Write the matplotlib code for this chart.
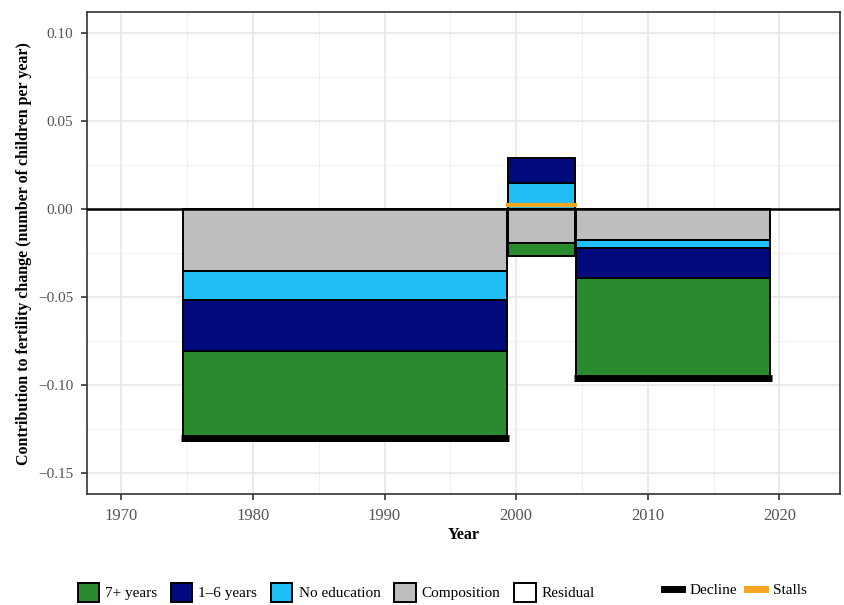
import numpy as np
import matplotlib.pyplot as plt
from matplotlib.patches import Patch
from matplotlib.lines import Line2D

plt.rcParams['font.family'] = ['Liberation Serif', 'DejaVu Serif']

# Periods (start/end year of each bar)
period_start = [1974.7, 1999.4, 2004.55]
period_end = [1999.3, 2004.5, 2019.3]

# Contributions per component (children per year)
comp_names = ['Composition', 'No education', '1\u20136 years', '7+ years', 'Residual']
composition = [-0.035, -0.0193, -0.0176]
no_education = [-0.0165, 0.0148, -0.0045]
years_1_6 = [-0.029, 0.0142, -0.0168]
years_7plus = [-0.049, -0.0072, -0.057]
residual = [0.0, 0.0, 0.0]

totals = [-0.13, 0.0025, -0.096]
status = ['Decline', 'Stall', 'Decline']

colors = {
    'Composition': '#bebebe',
    'No education': '#20bef7',
    '1\u20136 years': '#000a7c',
    '7+ years': '#2a8a2e',
    'Residual': '#ffffff',
}
status_colors = {'Decline': 'black', 'Stall': '#f5a623'}

fig = plt.figure(figsize=(8.45, 6.05), dpi=100)
ax = fig.add_axes([0.103, 0.183, 0.891, 0.797])

series = [composition, no_education, years_1_6, years_7plus, residual]
pos_base = np.zeros(3)
neg_base = np.zeros(3)
for name, vals in zip(comp_names, series):
    vals = np.array(vals)
    for i, v in enumerate(vals):
        if v == 0:
            continue
        w = period_end[i] - period_start[i]
        if v > 0:
            b = pos_base[i]
            pos_base[i] += v
        else:
            b = neg_base[i]
            neg_base[i] += v
        ax.bar(period_start[i], v, width=w, bottom=b, align='edge',
               color=colors[name], edgecolor='black', linewidth=1.4, zorder=3)

ax.axhline(0, color='black', linewidth=1.8, zorder=4)

for i, t in enumerate(totals):
    c = status_colors[status[i]]
    lw = 5 if status[i] == 'Decline' else 3
    ax.plot([period_start[i] - 0.15, period_end[i] + 0.15], [t, t],
            color=c, linewidth=lw, solid_capstyle='butt', zorder=5)

ax.set_xlim(1967.4, 2024.6)
ax.set_ylim(-0.162, 0.112)
ax.set_xticks([1970, 1980, 1990, 2000, 2010, 2020])
ax.set_xticks(np.arange(1975, 2025, 10), minor=True)
ax.set_yticks([-0.15, -0.10, -0.05, 0.00, 0.05, 0.10])
ax.set_yticks(np.arange(-0.125, 0.11, 0.05), minor=True)
ax.yaxis.set_major_formatter(plt.FuncFormatter(lambda v, p: f'{v:.2f}'.replace('-', '\u2212')))
ax.grid(True, which='major', color='#e6e6e6', linewidth=1.2, zorder=0)
ax.grid(True, which='minor', color='#f0f0f0', linewidth=0.8, zorder=0)
ax.tick_params(which='minor', length=0)
ax.tick_params(which='major', length=4, width=1.2, color='#333333', labelcolor='#555555')
ax.tick_params(axis='x', labelsize=12, pad=6)
ax.tick_params(axis='y', labelsize=11, pad=6)
for s in ax.spines.values():
    s.set_color('#333333')
    s.set_linewidth(1.2)

ax.set_xlabel('Year', fontsize=11.5, fontweight='bold', labelpad=2)
ax.set_ylabel('Contribution to fertility change (number of children per year)',
              fontsize=11.5, fontweight='bold', labelpad=4)

legend_order = ['7+ years', '1\u20136 years', 'No education', 'Composition', 'Residual']
handles = [Patch(facecolor=colors[n], edgecolor='black', linewidth=1.4) for n in legend_order]
leg1 = fig.legend(handles, legend_order, loc='center', bbox_to_anchor=(0.398, 0.021),
                  ncol=5, frameon=False, fontsize=11, handlelength=1.4, handleheight=1.5,
                  handletextpad=0.4, columnspacing=0.9)

status_labels = ['Decline', 'Stalls']
lines = [Line2D([0], [0], color='black', linewidth=5),
         Line2D([0], [0], color='#f5a623', linewidth=5)]
leg2 = fig.legend(lines, status_labels, loc='center', bbox_to_anchor=(0.87, 0.024),
                  ncol=2, frameon=False, fontsize=11, handlelength=1.2,
                  handletextpad=0.5, columnspacing=0.6)

fig.savefig('out.png', dpi=100)
